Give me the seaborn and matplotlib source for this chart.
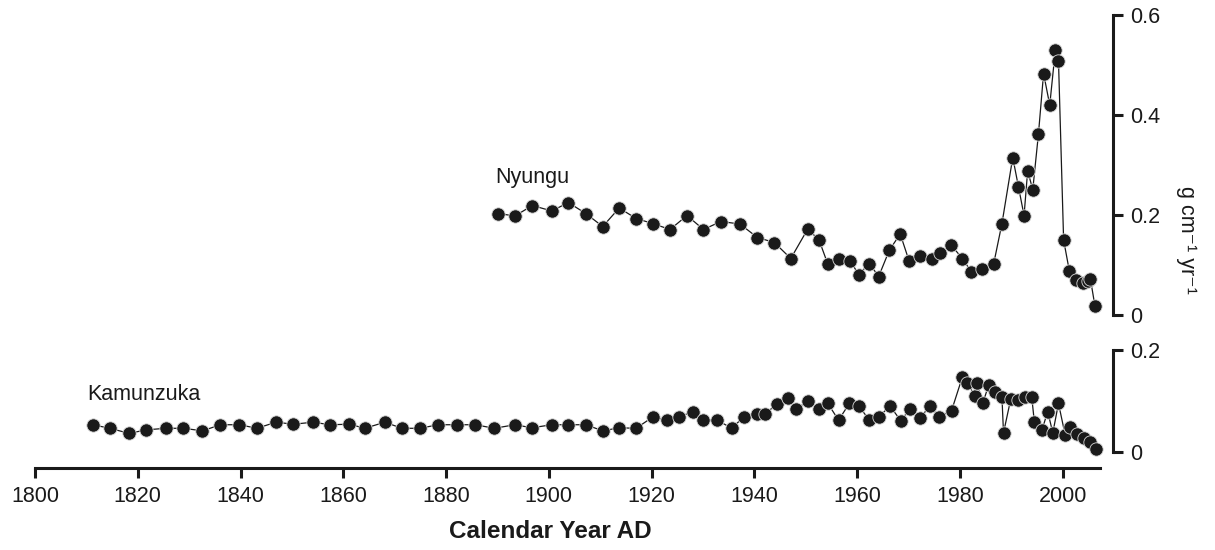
import matplotlib
matplotlib.use("Agg")
import matplotlib.pyplot as plt
import seaborn as sns

# Nyungu (upper record)
nyungu_year = [1890.2, 1893.4, 1896.8, 1900.6, 1903.8, 1907.2, 1910.5, 1913.7, 1917.0, 1920.2,
               1923.6, 1926.9, 1930.1, 1933.5, 1937.2, 1940.6, 1943.9, 1947.1, 1950.4, 1952.6,
               1954.3, 1956.5, 1958.7, 1960.3, 1962.4, 1964.2, 1966.3, 1968.4, 1970.1, 1972.3,
               1974.6, 1976.2, 1978.3, 1980.5, 1982.2, 1984.4, 1986.6, 1988.2, 1990.3, 1991.4,
               1992.5, 1993.2, 1994.2, 1995.3, 1996.3, 1997.5, 1998.6, 1999.2, 2000.2, 2001.3,
               2002.6, 2003.9, 2004.9, 2005.4, 2006.3]
nyungu_rate = [0.203, 0.198, 0.219, 0.208, 0.225, 0.203, 0.177, 0.214, 0.193, 0.183,
               0.171, 0.199, 0.171, 0.187, 0.182, 0.155, 0.145, 0.113, 0.172, 0.150,
               0.102, 0.113, 0.108, 0.081, 0.103, 0.077, 0.130, 0.162, 0.109, 0.118,
               0.113, 0.125, 0.140, 0.113, 0.087, 0.093, 0.103, 0.183, 0.315, 0.257,
               0.199, 0.288, 0.251, 0.362, 0.483, 0.420, 0.531, 0.509, 0.150, 0.089,
               0.071, 0.065, 0.069, 0.073, 0.018]

# Kamunzuka (lower record)
kamunzuka_year = [1811.2, 1814.6, 1818.3, 1821.7, 1825.5, 1828.9, 1832.6, 1836.1, 1839.8, 1843.2,
                  1846.9, 1850.3, 1854.1, 1857.4, 1861.2, 1864.2, 1868.1, 1871.4, 1874.9, 1878.5,
                  1882.1, 1885.7, 1889.4, 1893.4, 1896.7, 1900.6, 1903.8, 1907.2, 1910.5, 1913.7,
                  1917.0, 1920.2, 1923.1, 1925.4, 1928.0, 1930.1, 1932.8, 1935.6, 1937.9, 1940.5,
                  1942.1, 1944.4, 1946.5, 1948.1, 1950.4, 1952.6, 1954.3, 1956.4, 1958.5, 1960.4,
                  1962.4, 1964.2, 1966.4, 1968.5, 1970.3, 1972.3, 1974.2, 1976.0, 1978.4, 1980.5,
                  1981.4, 1983.0, 1983.3, 1984.5, 1985.6, 1986.9, 1988.2, 1988.5, 1989.9, 1991.4,
                  1992.7, 1994.0, 1994.5, 1996.0, 1997.1, 1998.1, 1999.2, 2000.5, 2001.5, 2002.8,
                  2004.1, 2005.4, 2006.5]
kamunzuka_rate = [0.053, 0.046, 0.036, 0.043, 0.046, 0.046, 0.041, 0.053, 0.053, 0.046,
                  0.058, 0.054, 0.058, 0.053, 0.054, 0.046, 0.058, 0.046, 0.046, 0.053,
                  0.053, 0.053, 0.046, 0.053, 0.047, 0.053, 0.053, 0.053, 0.041, 0.047,
                  0.046, 0.068, 0.062, 0.068, 0.079, 0.062, 0.062, 0.046, 0.068, 0.074,
                  0.074, 0.094, 0.105, 0.083, 0.100, 0.083, 0.095, 0.062, 0.095, 0.089,
                  0.062, 0.068, 0.090, 0.061, 0.084, 0.067, 0.090, 0.068, 0.081, 0.147,
                  0.135, 0.110, 0.135, 0.096, 0.131, 0.118, 0.107, 0.037, 0.103, 0.102,
                  0.107, 0.107, 0.059, 0.043, 0.079, 0.037, 0.095, 0.033, 0.048, 0.035,
                  0.026, 0.020, 0.005]

x_ticks = [1800, 1820, 1840, 1860, 1880, 1900, 1920, 1940, 1960, 1980, 2000]
top_ticks = [0, 0.2, 0.4, 0.6]
top_labels = ["0", "0.2", "0.4", "0.6"]
bottom_ticks = [0, 0.2]
bottom_labels = ["0", "0.2"]

sns.set_theme(style="white")
plt.rcParams["font.family"] = ["Liberation Sans", "DejaVu Sans"]

FS = 15.5
INK = "#1a1a1a"

fig = plt.figure(figsize=(12.15, 5.5), dpi=100)
ax_top = fig.add_axes([0.0288, 0.42727, 0.8872, 0.54545])
ax_bot = fig.add_axes([0.0288, 0.14964, 0.8872, 0.21400])

line_kws = dict(color=INK, linewidth=0.9, marker="o", markersize=9.6,
                markerfacecolor=INK, markeredgecolor="#d8d8d8", markeredgewidth=0.6,
                clip_on=False)

sns.lineplot(x=nyungu_year, y=nyungu_rate, ax=ax_top, **line_kws)
sns.lineplot(x=kamunzuka_year, y=kamunzuka_rate, ax=ax_bot, **line_kws)

for ax in (ax_top, ax_bot):
    ax.set_xlim(1800, 2009.8)
    ax.set_facecolor("white")
    for s in ("left", "top"):
        ax.spines[s].set_visible(False)
    ax.spines["right"].set_linewidth(2.2)
    ax.spines["right"].set_color(INK)
    ax.yaxis.tick_right()
    ax.tick_params(axis="y", which="major", direction="out", length=7, width=2.2,
                   color=INK, labelsize=FS, labelcolor=INK, pad=5.5,
                   left=False, right=True, labelleft=False, labelright=True)

# upper panel
ax_top.set_ylim(0, 0.6)
ax_top.set_yticks(top_ticks)
ax_top.set_yticklabels(top_labels)
ax_top.spines["bottom"].set_visible(False)
ax_top.tick_params(axis="x", bottom=False, labelbottom=False)
ax_top.set_xlabel("")
ax_top.yaxis.set_label_position("right")
ax_top.set_ylabel("g cm⁻¹ yr⁻¹", rotation=270, fontsize=FS, color=INK, va="center")
ax_top.yaxis.set_label_coords(1.0684, 0.25)
ax_top.text(1889.5, 0.276, "Nyungu", fontsize=FS, color=INK, ha="left", va="center")

# lower panel
ax_bot.set_ylim(-0.0315, 0.2)
ax_bot.set_yticks(bottom_ticks)
ax_bot.set_yticklabels(bottom_labels)
ax_bot.spines["right"].set_bounds(0, 0.2)
ax_bot.spines["bottom"].set_bounds(1800, 2007.3)
ax_bot.spines["bottom"].set_linewidth(2.2)
ax_bot.spines["bottom"].set_color(INK)
ax_bot.set_xticks(x_ticks)
ax_bot.set_xticklabels([str(t) for t in x_ticks])
ax_bot.tick_params(axis="x", direction="out", length=7, width=2.2, color=INK,
                   labelsize=FS, labelcolor=INK, pad=6, bottom=True)
ax_bot.set_xlabel("Calendar Year AD", fontsize=17.5, fontweight="bold", color=INK, va="center")
ax_bot.xaxis.set_label_coords(0.4777, -0.538)
ax_bot.set_ylabel("")
ax_bot.text(1810.1, 0.1115, "Kamunzuka", fontsize=FS, color=INK, ha="left", va="center")

fig.savefig("out.png", dpi=100, facecolor="white")
